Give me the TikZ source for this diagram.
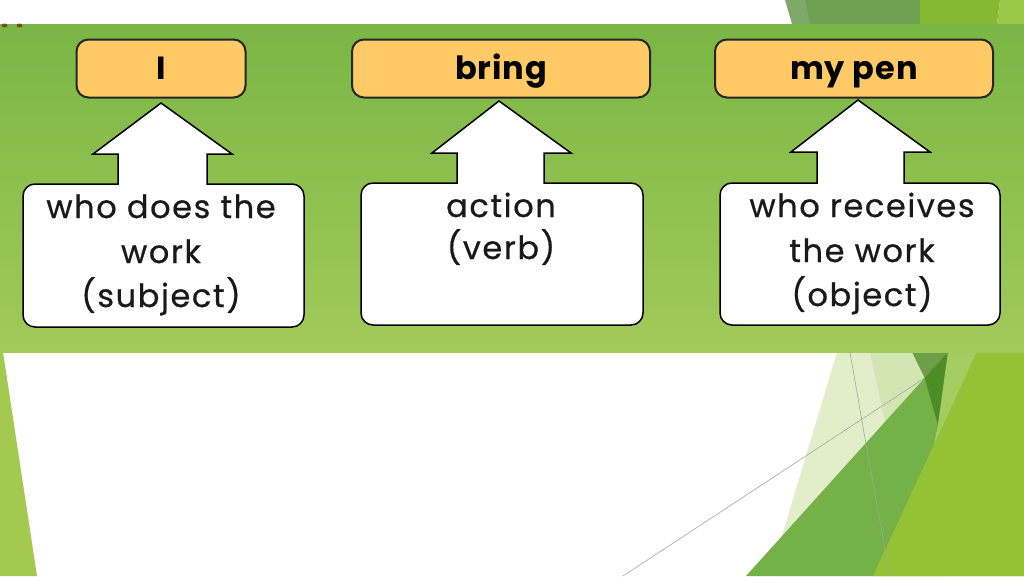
\documentclass[tikz,border=0pt]{standalone}
\usepackage{fontspec}
\setmainfont{Poppins}
\newfontfamily\bodyfont[LetterSpace=5,FakeBold=0.6]{Poppins}
\newfontfamily\titlefont[LetterSpace=3]{Poppins}
\definecolor{orangefill}{HTML}{FFC966}
\definecolor{paneltop}{HTML}{7AB645}
\definecolor{panelbot}{HTML}{A2CA5A}
\definecolor{pale}{HTML}{E1EEC9}
\definecolor{paletwo}{HTML}{D3E5B3}
\definecolor{medgreen}{HTML}{74B146}
\definecolor{olive}{HTML}{6C9F48}
\definecolor{darkgreen}{HTML}{4C8D27}
\definecolor{lightband}{HTML}{A3CD63}
\definecolor{yellowgreen}{HTML}{93C234}
\definecolor{topolive}{HTML}{70A052}
\definecolor{topgray}{HTML}{80A86A}
\definecolor{topyg}{HTML}{86B832}
\definecolor{toplight}{HTML}{99C947}
\definecolor{leftstrip}{HTML}{A3C951}
\definecolor{brownmark}{HTML}{7B4A1E}
\definecolor{thinline}{HTML}{A0A8A0}
\tikzset{
  titlebox/.style={draw=black!85, line width=2pt, fill=orangefill, rounded corners=12pt,
    inner sep=0pt, text height=23pt, text depth=2pt,
    font=\titlefont\bfseries\fontsize{32}{34}\selectfont},
  bodytext/.style={anchor=base, inner sep=0pt, font=\bodyfont\fontsize{32}{36}\selectfont, text=black!90},
  callout/.style={draw=black, line width=1.5pt, fill=white},
}
\begin{document}
\begin{tikzpicture}[x=1pt,y=-1pt]
\useasboundingbox (0,0) rectangle (1024,576);
\fill[white] (0,0) rectangle (1024,576);
% top right decoration
\fill[topgray] (785,0) -- (810,0) -- (815,24) -- (792,24) -- cycle;
\fill[topolive] (805,0) -- (920,0) -- (920,24) -- (810,24) -- cycle;
\fill[topyg] (920,0) -- (1000,0) -- (997,24) -- (920,24) -- cycle;
\fill[toplight] (1000,0) -- (1024,0) -- (1024,24) -- (997,24) -- cycle;
% bottom decorations
\fill[leftstrip] (0,352) -- (3,352) -- (37,576) -- (0,576) -- cycle;
\fill[pale] (837,352) -- (950,352) -- (950,576) -- (770,576) -- cycle;
\fill[paletwo] (870,352) -- (912,352) -- (924,378) -- (885,422) -- cycle;
\fill[medgreen] (948,352) -- (1024,352) -- (1024,576) -- (746,576) -- cycle;
\fill[olive] (912,352) -- (948,352) -- (924.6,378) -- cycle;
\fill[darkgreen] (924.6,378) -- (948,352) -- (938,425) -- cycle;
\fill[lightband] (948,352) -- (977,352) -- (931,458) -- (938,425) -- cycle;
\fill[yellowgreen] (977,352) -- (1024,352) -- (1024,576) -- (873,576) -- cycle;
\draw[thinline, line width=0.6pt] (623,576) -- (924.6,378);
\draw[thinline, line width=0.6pt] (850,352) -- (867,450) -- (890,576);
% panel
\shade[top color=paneltop, bottom color=panelbot] (0,24) rectangle (1024,352);
\fill[brownmark] (4.5,25.5) ellipse [x radius=3, y radius=2];
\fill[brownmark] (19.5,25.5) ellipse [x radius=3, y radius=2];
% title boxes
\node[titlebox, minimum width=169pt, minimum height=58pt] (t1) at (161,68.5) {I};
\node[titlebox, minimum width=298pt, minimum height=58pt] (t2) at (501,68.5) {bring};
\node[titlebox, minimum width=278pt, minimum height=58pt] (t3) at (854,68.5) {my pen};
% callouts
\draw[callout] (118,184) -- (118,154) -- (93,154) -- (161,103) -- (232,154) -- (207,154) -- (207,184)
  [rounded corners=12pt] -- (304,184) -- (304,327) -- (23,327) -- (23,184) -- (100,184) [sharp corners] -- cycle;
\draw[callout] (457,183) -- (457,153) -- (432,153) -- (499,101) -- (571,153) -- (544,153) -- (544,183)
  [rounded corners=12pt] -- (643,183) -- (643,325) -- (361,325) -- (361,183) -- (440,183) [sharp corners] -- cycle;
\draw[callout] (817,183) -- (817,152) -- (791,152) -- (858,100) -- (930,152) -- (904,152) -- (904,183)
  [rounded corners=12pt] -- (1000,183) -- (1000,325) -- (720,325) -- (720,183) -- (800,183) [sharp corners] -- cycle;
% texts
\node[bodytext] (b1a) at (161,218) {who does the};
\node[bodytext] (b1b) at (161,263) {work};
\node[bodytext] (b1c) at (161,307) {(subject)};
\node[bodytext] (b2a) at (501,217) {action};
\node[bodytext] (b2b) at (501,259) {(verb)};
\node[bodytext] (b3a) at (862,217) {who receives};
\node[bodytext] (b3b) at (862,262) {the work};
\node[bodytext] (b3c) at (862,306) {(object)};
\end{tikzpicture}
\end{document}
